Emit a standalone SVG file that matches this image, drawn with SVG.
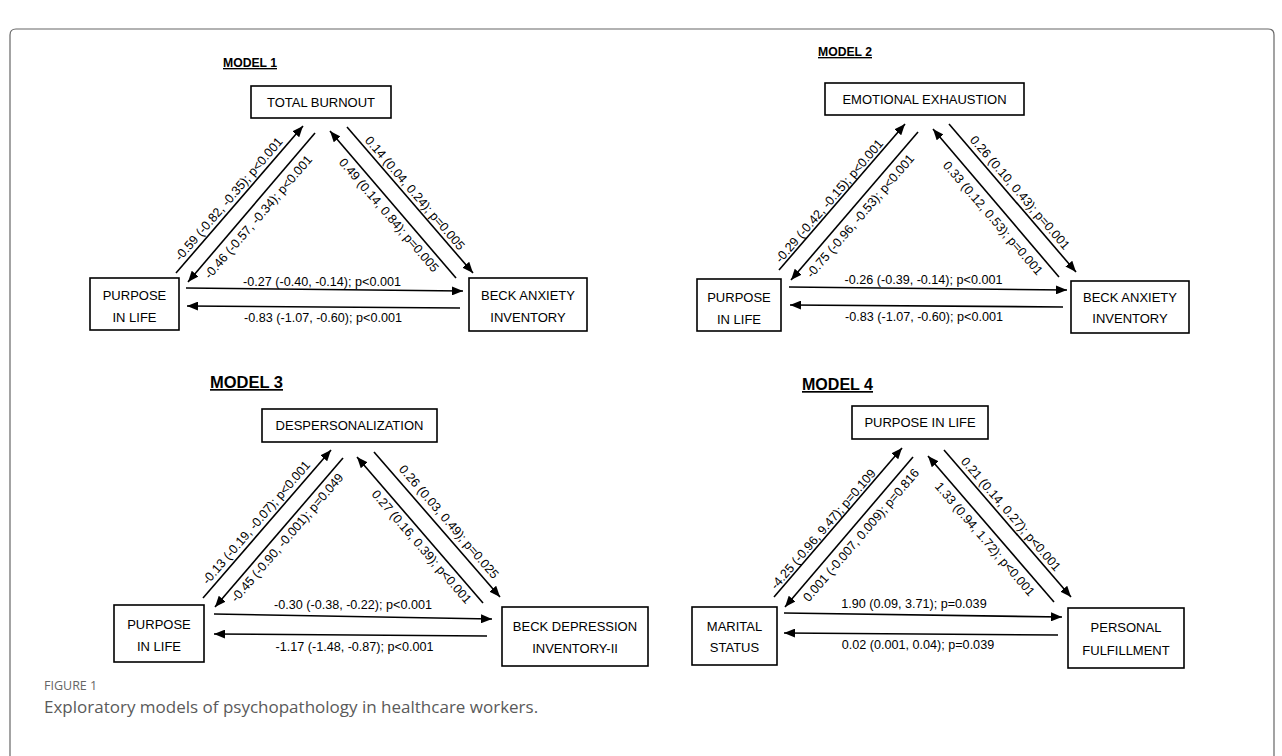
<svg xmlns="http://www.w3.org/2000/svg" width="1282" height="756" viewBox="0 0 1282 756">
<defs>
<style>
.box{fill:#fff;stroke:#000;stroke-width:1.6}
.nt{font-family:"Liberation Sans",Arial,sans-serif;font-size:13px;fill:#000;text-anchor:middle}
.lbl{font-family:"Liberation Sans",Arial,sans-serif;font-size:12.6px;fill:#000;text-anchor:middle}
.ttl{font-family:"Liberation Sans",Arial,sans-serif;font-weight:bold;fill:#000;text-anchor:middle;text-decoration:underline}
.ar{stroke:#000;stroke-width:1.6;fill:none;marker-end:url(#ah)}
.cap1{font-family:"Open Sans","Liberation Sans",sans-serif;font-size:12.5px;fill:#666}
.cap2{font-family:"Open Sans","Liberation Sans",sans-serif;font-size:17px;fill:#5a5a5a}
</style>
<marker id="ah" viewBox="0 0 11 9" refX="11" refY="4.5" markerWidth="11" markerHeight="9" markerUnits="userSpaceOnUse" orient="auto">
<path d="M0,0 L11,4.5 L0,9 z" fill="#000"/>
</marker>
</defs>
<rect width="1282" height="756" fill="#fff"/>
<path d="M10,756 V35 Q10,29 16,29 H1268 Q1274,29 1274,35 V756" fill="none" stroke="#666" stroke-width="1.2"/>

<g id="titles">
<text class="ttl" x="250" y="67" font-size="13.5px" textLength="54" lengthAdjust="spacingAndGlyphs">MODEL 1</text>
<text class="ttl" x="845" y="56" font-size="13.5px" textLength="54" lengthAdjust="spacingAndGlyphs">MODEL 2</text>
<text class="ttl" x="246.5" y="388" font-size="16.8px" textLength="73" lengthAdjust="spacingAndGlyphs">MODEL 3</text>
<text class="ttl" x="837.5" y="390" font-size="16.8px" textLength="71" lengthAdjust="spacingAndGlyphs">MODEL 4</text>
</g>

<!-- Model 1 nodes -->
<g id="m1-total-burnout"><rect class="box" x="251" y="86" width="140" height="32"/><text class="nt" x="321" y="106.5">TOTAL BURNOUT</text></g>
<g id="m1-purpose"><rect class="box" x="90" y="278" width="89" height="52"/><text class="nt" x="134.5" y="299.5">PURPOSE</text><text class="nt" x="134.5" y="321.5">IN LIFE</text></g>
<g id="m1-beck-anxiety"><rect class="box" x="469" y="278" width="118" height="53"/><text class="nt" x="528" y="299.5">BECK ANXIETY</text><text class="nt" x="528" y="321.5">INVENTORY</text></g>

<!-- Model 2 nodes -->
<g id="m2-emotional-exhaustion"><rect class="box" x="825" y="83" width="199" height="32"/><text class="nt" x="924.5" y="103.5">EMOTIONAL EXHAUSTION</text></g>
<g id="m2-purpose"><rect class="box" x="697" y="279" width="84" height="52"/><text class="nt" x="739" y="301.5">PURPOSE</text><text class="nt" x="739" y="323.5">IN LIFE</text></g>
<g id="m2-beck-anxiety"><rect class="box" x="1071" y="281" width="118" height="52"/><text class="nt" x="1130" y="301.5">BECK ANXIETY</text><text class="nt" x="1130" y="323">INVENTORY</text></g>

<!-- Model 3 nodes -->
<g id="m3-despersonalization"><rect class="box" x="262" y="409" width="175" height="33"/><text class="nt" x="349.5" y="430">DESPERSONALIZATION</text></g>
<g id="m3-purpose"><rect class="box" x="114" y="605" width="90" height="57"/><text class="nt" x="159" y="628.5">PURPOSE</text><text class="nt" x="159" y="650.5">IN LIFE</text></g>
<g id="m3-beck-depression"><rect class="box" x="502" y="607" width="146" height="59"/><text class="nt" x="575" y="630.5">BECK DEPRESSION</text><text class="nt" x="575" y="652.5">INVENTORY-II</text></g>

<!-- Model 4 nodes -->
<g id="m4-purpose"><rect class="box" x="852" y="406" width="136" height="33"/><text class="nt" x="920" y="427">PURPOSE IN LIFE</text></g>
<g id="m4-marital"><rect class="box" x="692" y="607" width="85" height="58"/><text class="nt" x="734.5" y="630.5">MARITAL</text><text class="nt" x="734.5" y="651.5">STATUS</text></g>
<g id="m4-personal"><rect class="box" x="1068" y="608" width="116" height="60"/><text class="nt" x="1126" y="632">PERSONAL</text><text class="nt" x="1126" y="654.5">FULFILLMENT</text></g>

<g id="connectors">
<!-- Model 1 -->
<line class="ar" x1="176" y1="273" x2="303" y2="126"/>
<line class="ar" x1="315" y1="133" x2="188" y2="282"/>
<line class="ar" x1="347" y1="127" x2="473" y2="273"/>
<line class="ar" x1="456" y1="278" x2="330" y2="131"/>
<line class="ar" x1="186" y1="288" x2="463" y2="291"/>
<line class="ar" x1="460" y1="308" x2="187" y2="306"/>
<text class="lbl" transform="translate(228.5,199) rotate(-49.3)" dy="0.35em">-0.59 (-0.82, -0.35); p&lt;0.001</text>
<text class="lbl" transform="translate(258,217) rotate(-49.3)" dy="0.35em">-0.46 (-0.57, -0.34); p&lt;0.001</text>
<text class="lbl" transform="translate(415,193) rotate(49.3)" dy="0.35em">0.14 (0.04, 0.24); p=0.005</text>
<text class="lbl" transform="translate(389,215) rotate(49.3)" dy="0.35em">0.49 (0.14, 0.84); p=0.005</text>
<text class="lbl" x="322" y="285.5">-0.27 (-0.40, -0.14); p&lt;0.001</text>
<text class="lbl" x="323" y="321.5">-0.83 (-1.07, -0.60); p&lt;0.001</text>

<!-- Model 2 -->
<line class="ar" x1="779" y1="270" x2="905" y2="124"/>
<line class="ar" x1="918" y1="132" x2="791" y2="280"/>
<line class="ar" x1="949" y1="124" x2="1076" y2="272"/>
<line class="ar" x1="1059" y1="277" x2="933" y2="129"/>
<line class="ar" x1="789" y1="287" x2="1067" y2="290"/>
<line class="ar" x1="1063" y1="307" x2="790" y2="305"/>
<text class="lbl" transform="translate(829,201) rotate(-49.3)" dy="0.35em">-0.29 (-0.42, -0.15); p&lt;0.001</text>
<text class="lbl" transform="translate(860,216) rotate(-49.3)" dy="0.35em">-0.75 (-0.96, -0.53); p&lt;0.001</text>
<text class="lbl" transform="translate(1020,192.5) rotate(49.3)" dy="0.35em">0.26 (0.10, 0.43); p=0.001</text>
<text class="lbl" transform="translate(993,218) rotate(49.3)" dy="0.35em">0.33 (0.12, 0.53); p=0.001</text>
<text class="lbl" x="923.5" y="283.5">-0.26 (-0.39, -0.14); p&lt;0.001</text>
<text class="lbl" x="924" y="321">-0.83 (-1.07, -0.60); p&lt;0.001</text>

<!-- Model 3 -->
<line class="ar" x1="203" y1="598" x2="331" y2="450"/>
<line class="ar" x1="343" y1="458" x2="215" y2="607"/>
<line class="ar" x1="374" y1="452" x2="500" y2="597"/>
<line class="ar" x1="483" y1="603" x2="357" y2="457"/>
<line class="ar" x1="214" y1="614" x2="492" y2="619"/>
<line class="ar" x1="487" y1="636" x2="214" y2="634"/>
<text class="lbl" transform="translate(256,522.5) rotate(-49.3)" dy="0.35em">-0.13 (-0.19, -0.07); p&lt;0.001</text>
<text class="lbl" transform="translate(287,537.5) rotate(-49.3)" dy="0.35em">-0.45 (-0.90, -0.001); p=0.049</text>
<text class="lbl" transform="translate(449,521.7) rotate(49.3)" dy="0.35em">0.26 (0.03, 0.49); p=0.025</text>
<text class="lbl" transform="translate(421.7,546.7) rotate(49.3)" dy="0.35em">0.27 (0.16, 0.39); p&lt;0.001</text>
<text class="lbl" x="353" y="609">-0.30 (-0.38, -0.22); p&lt;0.001</text>
<text class="lbl" x="354.5" y="651">-1.17 (-1.48, -0.87); p&lt;0.001</text>

<!-- Model 4 -->
<line class="ar" x1="774" y1="597" x2="902" y2="448"/>
<line class="ar" x1="913" y1="457" x2="785" y2="607"/>
<line class="ar" x1="944" y1="450" x2="1071" y2="597"/>
<line class="ar" x1="1054" y1="602" x2="928" y2="456"/>
<line class="ar" x1="784" y1="613" x2="1062" y2="617"/>
<line class="ar" x1="1058" y1="635" x2="784" y2="633"/>
<text class="lbl" transform="translate(823,529) rotate(-49.3)" dy="0.35em">-4.25 (-0.96, 9.47); p=0.109</text>
<text class="lbl" transform="translate(861,535) rotate(-49.3)" dy="0.35em">0.001 (-0.007, 0.009); p=0.816</text>
<text class="lbl" transform="translate(1011,514) rotate(49.3)" dy="0.35em">0.21 (0.14, 0.27); p&lt;0.001</text>
<text class="lbl" transform="translate(985,539) rotate(49.3)" dy="0.35em">1.33 (0.94, 1.72); p&lt;0.001</text>
<text class="lbl" x="914" y="608">1.90 (0.09, 3.71); p=0.039</text>
<text class="lbl" x="918" y="649">0.02 (0.001, 0.04); p=0.039</text>
</g>

<g id="caption">
<text class="cap1" x="44" y="690">FIGURE 1</text>
<text class="cap2" x="44" y="713">Exploratory models of psychopathology in healthcare workers.</text>
</g>
</svg>
